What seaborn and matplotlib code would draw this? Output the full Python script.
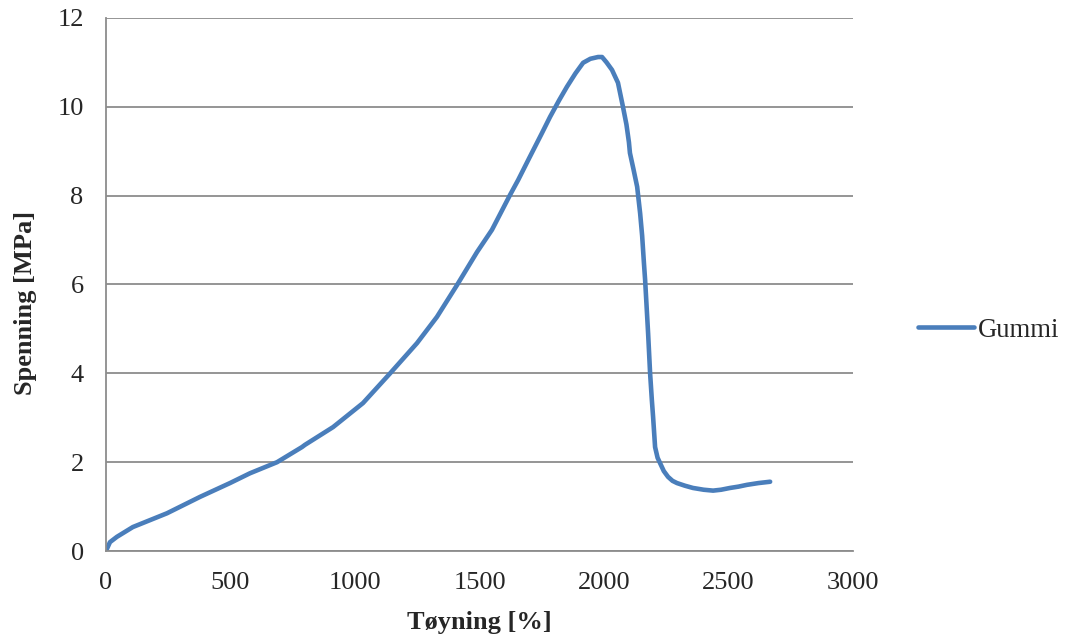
import matplotlib
matplotlib.use("Agg")
import matplotlib.pyplot as plt
import seaborn as sns
import pandas as pd
from matplotlib.lines import Line2D

strain = [0, 16, 44, 108, 245, 378, 498, 578, 687, 787, 799, 912, 1032, 1141, 1249, 1329,
          1410, 1490, 1550, 1622, 1655, 1700, 1750, 1783, 1820, 1851, 1885, 1916, 1945,
          1976, 1992, 2010, 2032, 2056, 2076, 2090, 2100, 2104, 2118, 2133, 2145, 2153,
          2160, 2165, 2172, 2177, 2185, 2192, 2197, 2205, 2215, 2225, 2240, 2257, 2275,
          2293, 2325, 2357, 2400, 2438, 2470, 2506, 2540, 2574, 2620, 2667]
stress = [0.0, 0.2, 0.32, 0.54, 0.85, 1.22, 1.53, 1.75, 2.0, 2.34, 2.39, 2.79, 3.33, 4.0,
          4.68, 5.27, 5.99, 6.73, 7.23, 8.01, 8.35, 8.85, 9.4, 9.77, 10.15, 10.45, 10.75,
          10.99, 11.08, 11.12, 11.12, 11.0, 10.83, 10.54, 10.0, 9.6, 9.2, 8.96, 8.6, 8.2,
          7.6, 7.1, 6.5, 6.1, 5.4, 4.9, 4.0, 3.4, 3.02, 2.34, 2.1, 1.98, 1.8, 1.67, 1.58,
          1.53, 1.47, 1.42, 1.38, 1.36, 1.38, 1.42, 1.45, 1.49, 1.53, 1.56]
series = ["Gummi"] * len(strain)

df = pd.DataFrame({"Tøyning [%]": strain, "Spenning [MPa]": stress, "serie": series})

sns.set_style("white")
plt.rcParams["font.family"] = ["Liberation Serif", "DejaVu Serif"]

fig = plt.figure(figsize=(10.65, 6.4), dpi=100)
ax = fig.add_axes([0.0995, 0.139, 0.7015, 0.833])

sns.lineplot(data=df, x="Tøyning [%]", y="Spenning [MPa]", hue="serie", sort=False,
             estimator=None, palette=["#4A7EBB"], linewidth=3.3, ax=ax, legend=False)
for l in ax.lines:
    l.set_solid_joinstyle("round")
    l.set_solid_capstyle("round")

ax.set_xlim(0, 3000)
ax.set_ylim(0, 12)
ax.set_xticks(range(0, 3001, 500))
ax.set_yticks(range(0, 13, 2))
ax.yaxis.grid(True, color="#8c8c8c", linewidth=1.3)
ax.set_axisbelow(True)
for s in ["top", "right"]:
    ax.spines[s].set_visible(False)
for s in ["left", "bottom"]:
    ax.spines[s].set_color("#8c8c8c")
    ax.spines[s].set_linewidth(1.3)
ax.tick_params(axis="both", which="major", length=6, width=1.3, color="#8c8c8c",
               labelsize=19, direction="out")
ax.tick_params(axis="x", pad=9)
ax.tick_params(axis="y", pad=10)
ax.set_xlabel("Tøyning [%]", fontsize=19, fontweight="bold", labelpad=12)
ax.set_ylabel("Spenning [MPa]", fontsize=19, fontweight="bold")
ax.yaxis.set_label_coords(-0.092, 0.466)

handle = Line2D([], [], color="#4A7EBB", linewidth=3.3, solid_capstyle="round")
fig.legend([handle], ["Gummi"], loc="center left", bbox_to_anchor=(0.862, 0.484),
           frameon=False, fontsize=19.3, handlelength=2.1, handletextpad=0.15,
           borderaxespad=0, borderpad=0)

fig.savefig("out.png", dpi=100)
